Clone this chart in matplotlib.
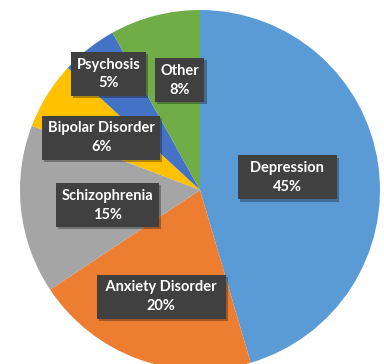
import numpy as np
import matplotlib.pyplot as plt
import matplotlib.patheffects as pe

categories = ['Depression', 'Anxiety Disorder', 'Schizophrenia',
              'Bipolar Disorder', 'Psychosis', 'Other']
values = [45, 20, 15, 6, 5, 8]
colors = ['#5B9BD5', '#ED7D31', '#A5A5A5', '#FFC000', '#4472C4', '#70AD47']
# where each label box sits: fraction of radius, and angle nudge (deg)
label_dist = [0.49, 0.63, 0.52, 0.62, 0.82, 0.62]
label_nudge = [0, 0, 3, 4, 0, -4]
# the Depression box is drawn wider than the others
side_pad = ['  ', ' ', '', '', '', '']

plt.rcParams['font.family'] = ['Lato', 'DejaVu Sans']

fig = plt.figure(figsize=(3.84, 3.64), dpi=100)
ax = fig.add_axes([0, 0, 1, 1])

R = 180
wedges, _ = ax.pie(values, colors=colors, startangle=90, counterclock=False,
                   radius=R, center=(0, 0), wedgeprops=dict(linewidth=0))

for w, name, v, d, nd, sp in zip(wedges, categories, values, label_dist,
                                 label_nudge, side_pad):
    ang = np.deg2rad((w.theta1 + w.theta2) / 2 + nd)
    x, y = d * R * np.cos(ang), d * R * np.sin(ang)
    t = ax.text(x, y, f'{sp}{name}{sp}\n{v}%', ha='center', va='center',
                color='white', fontsize=10.5, fontweight='bold', linespacing=1.45,
                bbox=dict(boxstyle='square,pad=0.38', facecolor='#404040',
                          edgecolor='none'))
    t.get_bbox_patch().set_path_effects([
        pe.SimplePatchShadow(offset=(1.5, -1.5), alpha=0.35), pe.Normal()])

ax.set_xlim(-200, 184)
ax.set_ylim(-174, 190)
ax.set_aspect('equal')
ax.axis('off')

fig.savefig('out.png', dpi=100)
